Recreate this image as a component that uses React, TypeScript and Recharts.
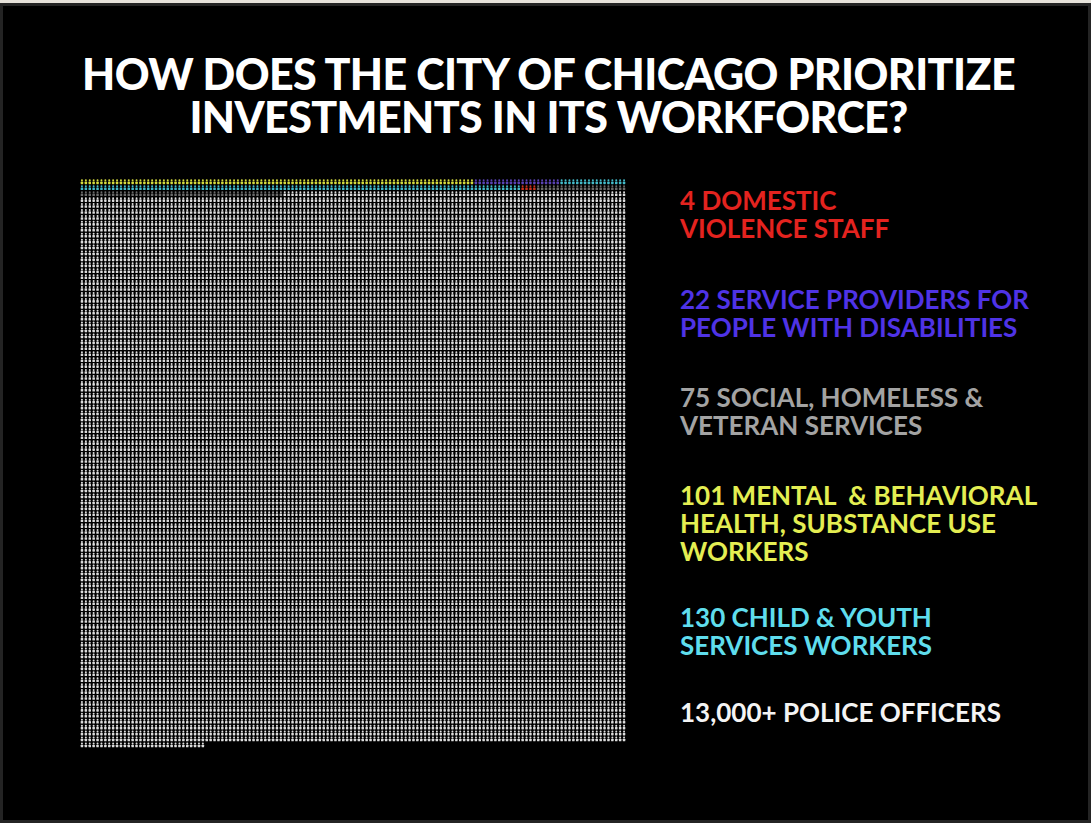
import React from 'react'
import { Scatter, ScatterChart, XAxis, YAxis } from 'recharts'

const titleLines = ['HOW DOES THE CITY OF CHICAGO PRIORITIZE', 'INVESTMENTS IN ITS WORKFORCE?']

// legend order, top to bottom
const groupLines = [
  ['4 DOMESTIC', 'VIOLENCE STAFF'],
  ['22 SERVICE PROVIDERS FOR', 'PEOPLE WITH DISABILITIES'],
  ['75 SOCIAL, HOMELESS &', 'VETERAN SERVICES'],
  ['101 MENTAL  & BEHAVIORAL', 'HEALTH, SUBSTANCE USE', 'WORKERS'],
  ['130 CHILD & YOUTH', 'SERVICES WORKERS'],
  ['13,000+ POLICE OFFICERS'],
]
const groupCounts = [4, 22, 75, 101, 130, 13000]
const textColors = ['#e4231f', '#4f33e6', '#a3a3a3', '#e4ee52', '#5fdded', '#f4f4f4']
const iconColors = ['#c8321f', '#5a42b4', '#6a6a6a', '#d6dc3e', '#44bccb', '#dedede']
// order the icons are laid out in the grid, row by row from the top left
const fillOrder = [3, 1, 4, 0, 2, 5]

const COLS = 140
const total = groupCounts.reduce((a, b) => a + b, 0)
const ROWS = Math.ceil(total / COLS)

const palette = {
  bg: '#000000',
  frame: '#242424',
  strip: '#e7e3db',
  title: '#ffffff',
}

function buildSeries() {
  const series: Array<{ group: number; points: Array<{ x: number; y: number }> }> = []
  let i = 0
  fillOrder.forEach((g) => {
    const points: Array<{ x: number; y: number }> = []
    for (let k = 0; k < groupCounts[g]; k++) {
      points.push({ x: (i % COLS) + 0.5, y: Math.floor(i / COLS) + 0.5 })
      i++
    }
    series.push({ group: g, points })
  })
  return series
}

const series = buildSeries()

function Person(props: any) {
  const { cx, cy, fill } = props
  if (cx == null || cy == null) return null
  return (
    <g>
      <circle cx={cx} cy={cy - 1.6} r={1} fill={fill} />
      <rect x={cx - 1.25} y={cy - 0.4} width={2.5} height={2.6} rx={0.6} fill={fill} />
    </g>
  )
}

export default function App() {
  return (
    <div
      style={{
        width: 1091,
        height: 823,
        background: palette.strip,
        position: 'relative',
        overflow: 'hidden',
      }}
    >
      <style>{`body{margin:0}`}</style>
      <div
        style={{
          position: 'absolute',
          left: 0,
          top: 3,
          width: 1091,
          height: 820,
          boxSizing: 'border-box',
          background: palette.bg,
          border: `3px solid ${palette.frame}`,
        }}
      />
      <div
        style={{
          position: 'absolute',
          left: 0,
          top: 52,
          width: 1097,
          textAlign: 'center',
          fontFamily: 'Lato, sans-serif',
          fontWeight: 900,
          fontSize: 43,
          lineHeight: '43px',
          letterSpacing: -0.6,
          color: palette.title,
        }}
      >
        {titleLines.map((l) => (
          <div key={l}>{l}</div>
        ))}
      </div>

      <div style={{ position: 'absolute', left: 80, top: 179 }}>
        <ScatterChart width={546} height={569} margin={{ top: 0, right: 0, bottom: 0, left: 0 }}>
          <XAxis type="number" dataKey="x" domain={[0, COLS]} hide />
          <YAxis type="number" dataKey="y" domain={[0, ROWS]} reversed hide />
          {series.map((s) => (
            <Scatter
              key={s.group}
              data={s.points}
              fill={iconColors[s.group]}
              shape={<Person />}
              isAnimationActive={false}
            />
          ))}
        </ScatterChart>
      </div>

      {groupLines.map((lines, g) => (
        <div
          key={g}
          style={{
            position: 'absolute',
            left: 680,
            top: [186, 285, 383, 481, 603, 698][g],
            fontFamily: 'Lato, sans-serif',
            fontWeight: 700,
            fontSize: 26,
            lineHeight: '28px',
            color: textColors[g],
            whiteSpace: 'pre',
          }}
        >
          {lines.map((l) => (
            <div key={l}>{l}</div>
          ))}
        </div>
      ))}
    </div>
  )
}
